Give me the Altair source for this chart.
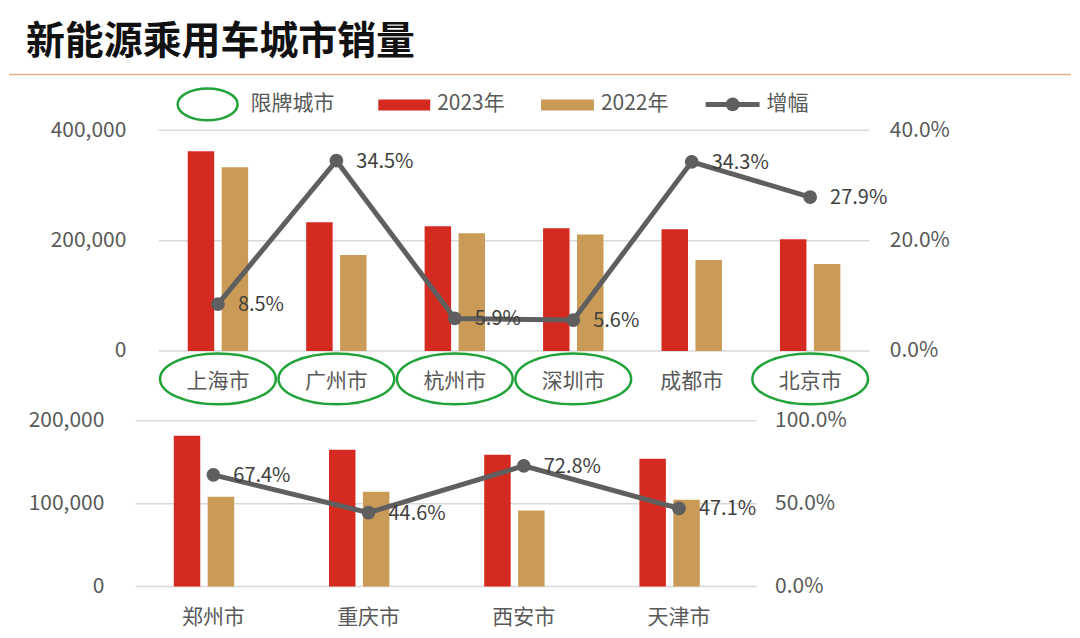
import altair as alt
import pandas as pd

# ---------------- data ----------------
title_text = "新能源乘用车城市销量"
years = ["2023年", "2022年"]
legend_ring_label = "限牌城市"
legend_line_label = "增幅"

top_cities = ["上海市", "广州市", "杭州市", "深圳市", "成都市", "北京市"]
top_2023 = [362000, 233500, 226000, 222600, 220800, 202700]
top_2022 = [333000, 173800, 213400, 211000, 164700, 157500]
top_growth = [0.085, 0.345, 0.059, 0.056, 0.343, 0.279]
top_restricted = ["上海市", "广州市", "杭州市", "深圳市", "北京市"]
top_left_ticks = [0, 200000, 400000]
top_right_ticks = [0, 0.2, 0.4]

bot_cities = ["郑州市", "重庆市", "西安市", "天津市"]
bot_2023 = [181900, 165000, 159000, 154200]
bot_2022 = [108400, 114500, 91600, 104800]
bot_growth = [0.674, 0.446, 0.728, 0.471]
bot_left_ticks = [0, 100000, 200000]
bot_right_ticks = [0, 0.5, 1.0]

# ---------------- style ----------------
FONT = "Noto Sans CJK SC"
RED = "#d42a20"
TAN = "#c99b57"
GRAY = "#5f5f5f"
GREEN = "#22a33a"
GRID = "#d9d9d9"
LABEL = "#595959"


def ellipse_path(ry):
    k = 0.5523
    return (f"M -1 0 C -1 {-k*ry:.4f} {-k:.4f} {-ry} 0 {-ry} "
            f"C {k:.4f} {-ry} 1 {-k*ry:.4f} 1 0 "
            f"C 1 {k*ry:.4f} {k:.4f} {ry} 0 {ry} "
            f"C {-k:.4f} {ry} -1 {k*ry:.4f} -1 0 Z")


RING = ellipse_path(0.44)
RING_LEG = ellipse_path(0.53)


def panel(cities, v23, v22, growth, left_ticks, right_ticks, width, height,
          xrange, left_pad, right_pad, grid_x0):
    n = len(cities)
    bars_df = pd.DataFrame({
        "city": cities * 2,
        "year": [years[0]] * n + [years[1]] * n,
        "sales": v23 + v22,
    })
    line_df = pd.DataFrame({"city": cities, "growth": growth})
    grid_df = pd.DataFrame({"sales": left_ticks})

    sc_kw = dict(domain=cities, paddingInner=0.49, paddingOuter=0.245)
    if xrange is not None:
        sc_kw["range"] = xrange
    xscale = alt.Scale(**sc_kw)
    x_axis = alt.Axis(title=None, labelFontSize=21, labelColor=LABEL, labelFont=FONT,
                      labelPadding=31, labelBaseline="middle", domain=False, ticks=False,
                      labelAngle=0, grid=False)
    x = alt.X("city:N", scale=xscale, sort=cities, axis=x_axis)

    yscale = alt.Scale(domain=[0, left_ticks[-1]], nice=False)
    y_axis = alt.Axis(title=None, orient="left", values=left_ticks,
                      labelExpr="format(datum.value, ',')",
                      grid=False, domain=False, ticks=False, labelFontSize=21,
                      labelColor=LABEL, labelFont=FONT, labelPadding=left_pad)
    y = alt.Y("sales:Q", scale=yscale, axis=y_axis)

    rscale = alt.Scale(domain=[0, right_ticks[-1]], nice=False)
    r_axis = alt.Axis(title=None, orient="right", values=right_ticks,
                      labelExpr="format(datum.value, '.1%')",
                      grid=False, domain=False, ticks=False, labelFontSize=21,
                      labelColor=LABEL, labelFont=FONT, labelPadding=right_pad)
    r = alt.Y("growth:Q", scale=rscale, axis=r_axis)

    grid = alt.Chart(grid_df).mark_rule(color=GRID, strokeWidth=1.5).encode(
        y=y, x=alt.value(grid_x0), x2=alt.value(width),
    )
    bars = alt.Chart(bars_df).mark_bar().encode(
        x=x,
        xOffset=alt.XOffset("year:N", sort=years,
                            scale=alt.Scale(domain=years, paddingInner=0.22)),
        y=y,
        color=alt.Color("year:N", scale=alt.Scale(domain=years, range=[RED, TAN]), legend=None),
    )
    line = alt.Chart(line_df).mark_line(color=GRAY, strokeWidth=5).encode(x=x, y=r)
    pts = alt.Chart(line_df).mark_point(filled=True, size=190, color=GRAY, opacity=1).encode(
        x=x, y=r)
    labels = alt.Chart(line_df).mark_text(align="left", baseline="middle", dx=20, dy=1,
                                         fontSize=20, font=FONT, color="#404040").encode(
        x=x, y=r, text=alt.Text("growth:Q", format=".1%"))
    left = alt.layer(grid, bars)
    right = alt.layer(line, pts, labels)
    return left, right, x


# ---------------- top panel ----------------
TW, TH = 735, 221
tl, tr, tx = panel(top_cities, top_2023, top_2022, top_growth, top_left_ticks, top_right_ticks,
                   TW, TH, [23, TW], 10, 20, 23)

rings = alt.Chart(pd.DataFrame({"city": top_restricted})).mark_point(
    shape=RING, size=116 ** 2, filled=False, stroke=GREEN, strokeWidth=2.5, opacity=1
).encode(x=tx, y=alt.value(TH + 28))

one = pd.DataFrame({"t": [title_text]})
title = alt.Chart(one).mark_text(align="left", baseline="middle", fontSize=39, font=FONT,
                                 fontWeight="bold", color="#111111").encode(
    text="t:N", x=alt.value(-110), y=alt.value(-89))
sep = alt.Chart(one).mark_rule(color="#e2b58c", strokeWidth=1.5).encode(
    x=alt.value(-127), x2=alt.value(937), y=alt.value(-56))

LY = -26
leg_ring = alt.Chart(one).mark_point(shape=RING_LEG, size=60 ** 2, filled=False, stroke=GREEN,
                                     strokeWidth=2.5, opacity=1).encode(
    x=alt.value(72), y=alt.value(LY))
leg_red = alt.Chart(one).mark_rect(color=RED).encode(
    x=alt.value(243), x2=alt.value(295), y=alt.value(LY - 5), y2=alt.value(LY + 6))
leg_tan = alt.Chart(one).mark_rect(color=TAN).encode(
    x=alt.value(406), x2=alt.value(459), y=alt.value(LY - 5), y2=alt.value(LY + 6))
leg_line = alt.Chart(one).mark_rule(color=GRAY, strokeWidth=5).encode(
    x=alt.value(571), x2=alt.value(625), y=alt.value(LY))
leg_dot = alt.Chart(one).mark_point(filled=True, size=190, color=GRAY, opacity=1).encode(
    x=alt.value(598), y=alt.value(LY))
leg_text_df = pd.DataFrame({"t": [legend_ring_label, years[0], years[1], legend_line_label],
                            "i": [0, 1, 2, 3]})
leg_xs = [115, 302, 466, 632]
leg_texts = [
    alt.Chart(leg_text_df).transform_filter(alt.datum.i == i).mark_text(
        align="left", baseline="middle", fontSize=21, font=FONT, color=LABEL).encode(
        text="t:N", x=alt.value(xv), y=alt.value(LY))
    for i, xv in enumerate(leg_xs)
]

top_chart = alt.layer(
    tl, tr, rings, title, sep, leg_ring, leg_red, leg_tan, leg_line, leg_dot, *leg_texts
).resolve_scale(y="independent").properties(width=TW, height=TH)

# ---------------- bottom panel ----------------
BW, BH = 622, 166
bl, br, bx = panel(bot_cities, bot_2023, bot_2022, bot_growth, bot_left_ticks, bot_right_ticks,
                   BW, BH, None, 32, 18, 0)
bottom_chart = alt.layer(bl, br).resolve_scale(y="independent").properties(width=BW, height=BH)

chart = alt.vconcat(top_chart, bottom_chart, spacing=0).properties(
    padding={"left": 0, "top": 14, "right": 0, "bottom": 8}
).configure(font=FONT).configure_view(strokeWidth=0, stroke="transparent").configure_axis(
    domain=False, ticks=False, grid=False
)

chart.save("out.html", embed_options={"renderer": "svg", "actions": False})
